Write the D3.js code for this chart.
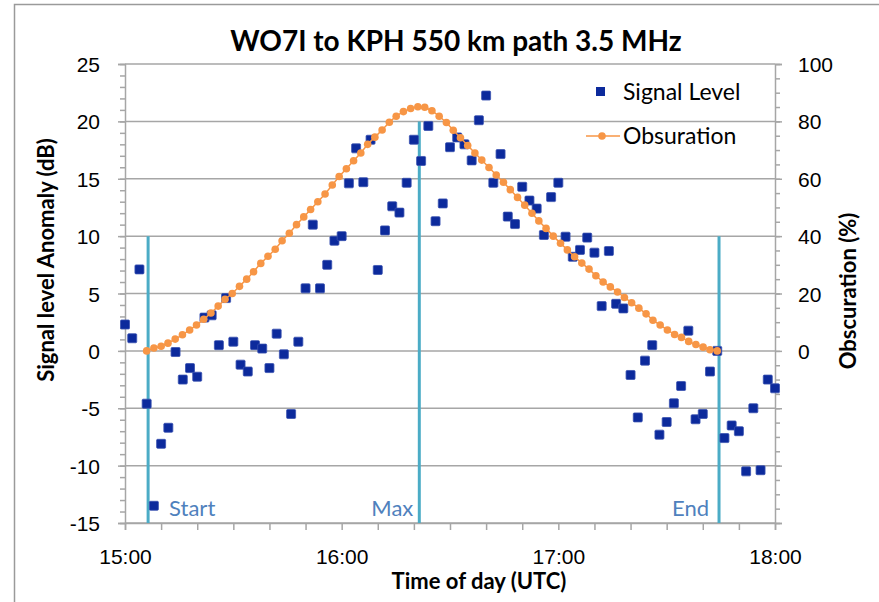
<!DOCTYPE html>
<html>
<head>
<meta charset="utf-8">
<script src="https://cdn.jsdelivr.net/npm/d3@7"></script>
<style>
  body { margin: 0; background: #fff; }
  svg { display: block; font-family: Lato, 'Open Sans', sans-serif; }
</style>
</head>
<body>
<svg id="chart" width="879" height="602"></svg>
<script>
// minutes after 15:00 UTC
const SIG_TIMES = [
  0, 2, 4, 6, 8, 10, 12, 14, 16, 18,
  20, 22, 24, 26, 28, 30, 32, 34, 36, 38,
  40, 42, 44, 46, 48, 50, 52, 54, 56, 58,
  60, 62, 64, 66, 68, 70, 72, 74, 76, 78,
  80, 82, 84, 86, 88, 90, 92, 94, 96, 98,
  100, 102, 104, 106, 108, 110, 112, 114, 116, 118,
  120, 122, 124, 126, 128, 130, 132, 134, 136, 138,
  140, 142, 144, 146, 148, 150, 152, 154, 156, 158,
  160, 162, 164, 166, 168, 170, 172, 174, 176, 178,
  180,
]
const SIGNAL = [
  2.3, 1.1, 7.1, -4.6, -13.5, -8.1, -6.7, -0.1, -2.5, -1.5,
  -2.25, 2.9, 3.1, 0.5, 4.6, 0.8, -1.2, -1.8, 0.5, 0.2,
  -1.5, 1.5, -0.3, -5.5, 0.8, 5.45, 11.0, 5.45, 7.5, 9.6,
  10.0, 14.6, 17.65, 14.7, 18.4, 7.05, 10.5, 12.6, 12.05, 14.65,
  18.4, 16.55, 19.6, 11.3, 12.85, 17.75, 18.6, 18.0, 16.6, 20.1,
  22.25, 14.65, 17.15, 11.7, 11.05, 14.3, 13.1, 12.4, 10.1, 13.4,
  14.65, 9.95, 8.2, 8.8, 9.87, 8.56, 3.9, 8.7, 4.1, 3.7,
  -2.1, -5.8, -0.85, 0.5, -7.3, -6.2, -4.57, -3.06, 1.76, -5.96,
  -5.5, -1.8, 0, -7.6, -6.5, -7.0, -10.5, -5.0, -10.4, -2.5,
  -3.26,
]
const OBS_TIMES = [
  6.0, 8.0, 10.0, 11.9, 13.9, 15.9, 17.9, 19.8, 21.8, 23.8,
  25.8, 27.7, 29.7, 31.7, 33.7, 35.6, 37.6, 39.6, 41.6, 43.5,
  45.5, 47.5, 49.5, 51.4, 53.4, 55.4, 57.4, 59.3, 61.3, 63.3,
  65.3, 67.2, 69.2, 71.2, 73.2, 75.1, 77.1, 79.1, 81.1, 83.0,
  85.0, 87.0, 89.0, 90.9, 92.9, 94.9, 96.9, 98.8, 100.8, 102.8,
  104.8, 106.7, 108.7, 110.7, 112.7, 114.6, 116.6, 118.6, 120.6, 122.5,
  124.5, 126.5, 128.5, 130.4, 132.4, 134.4, 136.4, 138.3, 140.3, 142.3,
  144.3, 146.2, 148.2, 150.2, 152.2, 154.1, 156.1, 158.1, 160.1, 162.0,
  164.0,
]
const OBSCURATION = [
  0, 1.0, 1.6, 2.7, 4.1, 5.6, 7.3, 9.0, 11.0, 13.2,
  15.6, 18.0, 20.0, 22.5, 25.0, 27.6, 30.5, 33.0, 35.4, 38.4,
  41.0, 44.0, 46.7, 49.3, 52.0, 54.7, 57.8, 60.8, 63.5, 66.3,
  69.0, 72.0, 74.5, 77.0, 79.7, 81.8, 83.4, 84.5, 85.1, 84.9,
  83.7, 81.8, 79.6, 76.9, 74.3, 71.6, 69.0, 66.5, 63.9, 61.3,
  58.8, 56.2, 53.5, 50.8, 48.0, 45.3, 42.7, 40.0, 37.5, 35.2,
  32.8, 30.6, 28.5, 26.2, 24.0, 22.3, 20.5, 18.6, 16.8, 14.9,
  12.9, 10.7, 9.0, 7.3, 5.7, 4.7, 3.3, 2.2, 1.3, 0.4,
  0,
]
const EVENT_NAMES = ['Start', 'Max', 'End']
const EVENT_TIMES = [6.4, 81.5, 164.5]
const EVENT_TOPS = [10, 20, 10]
const HOUR_TICKS = ['15:00', '16:00', '17:00', '18:00']
const LEFT_TICKS = [25, 20, 15, 10, 5, 0, -5, -10, -15]
const RIGHT_TICKS = [100, 80, 60, 40, 20, 0]

const COLORS = {
  signal: '#0c2a9c',
  obs: '#f79646',
  event: '#4bacc6',
  eventText: '#4f81bd',
  grid: '#a6a6a6',
  text: '#000',
}
const FS = { tick: 21, title: 28, axis: 22, legend: 23, event: 22 }

const M = { left: 125, right: 775, top: 64, bottom: 523 }
const svg = d3.select('#chart')

// chart border
svg.append('rect')
  .attr('x', 14.5).attr('y', 4.5)
  .attr('width', 900).attr('height', 700)
  .attr('fill', 'none').attr('stroke', '#9a9a9a').attr('stroke-width', 1.5)

const X = d3.scaleLinear().domain([0, 180]).range([M.left, M.right])
const Y = d3.scaleLinear().domain([-15, 25]).range([M.bottom, M.top])
const Y2 = d3.scaleLinear().domain([-60, 100]).range([M.bottom, M.top])

// gridlines
svg.append('g')
  .selectAll('line')
  .data(LEFT_TICKS)
  .join('line')
  .attr('x1', M.left).attr('x2', M.right)
  .attr('y1', d => Y(d)).attr('y2', d => Y(d))
  .attr('stroke', COLORS.grid).attr('stroke-width', 1.5)

// left axis (plain hyphen for negatives, like the original)
const leftMinor = svg.append('g')
  .attr('transform', `translate(${M.left},0)`)
  .call(d3.axisLeft(Y).ticks(40).tickSize(5).tickFormat(''))
leftMinor.select('.domain').remove()
const leftAxis = svg.append('g')
  .attr('transform', `translate(${M.left},0)`)
  .call(d3.axisLeft(Y).tickValues(LEFT_TICKS).tickSize(7).tickPadding(18).tickFormat(d => String(d)))
leftAxis.selectAll('text').attr('font-size', FS.tick).attr('fill', COLORS.text).attr('dy', '0.36em')

// right axis
const rightMinor = svg.append('g')
  .attr('transform', `translate(${M.right},0)`)
  .call(d3.axisRight(Y2).ticks(32).tickSize(5).tickFormat(''))
rightMinor.select('.domain').remove()
const rightAxis = svg.append('g')
  .attr('transform', `translate(${M.right},0)`)
  .call(d3.axisRight(Y2).tickValues(d3.range(-60, 101, 20)).tickSize(7).tickPadding(16)
    .tickFormat(d => RIGHT_TICKS.includes(d) ? String(d) : ''))
rightAxis.selectAll('text').attr('font-size', FS.tick).attr('fill', COLORS.text).attr('dy', '0.36em')

// bottom axis
const bottomAxis = svg.append('g')
  .attr('transform', `translate(0,${M.bottom})`)
  .call(d3.axisBottom(X).tickValues(d3.range(0, 181, 10)).tickSize(7).tickPadding(19)
    .tickFormat(d => d % 60 === 0 ? HOUR_TICKS[d / 60] : ''))
bottomAxis.selectAll('text').attr('font-size', FS.tick).attr('fill', COLORS.text)

svg.selectAll('.domain, .tick line').attr('stroke', COLORS.grid).attr('stroke-width', 1.5)

// event lines
const ev = svg.append('g')
EVENT_NAMES.forEach((name, i) => {
  ev.append('line')
    .attr('x1', X(EVENT_TIMES[i])).attr('x2', X(EVENT_TIMES[i]))
    .attr('y1', Y(EVENT_TOPS[i])).attr('y2', M.bottom)
    .attr('stroke', COLORS.event).attr('stroke-width', 3)
  ev.append('text')
    .attr('x', i === 0 ? X(EVENT_TIMES[i]) + 21 : X(EVENT_TIMES[i]) - (i === 1 ? 6 : 10))
    .attr('y', 516)
    .attr('text-anchor', i === 0 ? 'start' : 'end')
    .attr('font-size', FS.event)
    .attr('fill', COLORS.eventText)
    .text(name)
})

// signal squares
const S = 9
svg.append('g')
  .selectAll('rect')
  .data(SIGNAL)
  .join('rect')
  .attr('x', (d, i) => X(SIG_TIMES[i]) - S / 2)
  .attr('y', d => Y(d) - S / 2)
  .attr('width', S).attr('height', S)
  .attr('rx', 1)
  .attr('fill', COLORS.signal)
  .attr('stroke', '#3850b0').attr('stroke-width', 0.8)

// obscuration line + markers
const obsPts = OBSCURATION.map((d, i) => [X(OBS_TIMES[i]), Y2(d)])
svg.append('path')
  .attr('d', d3.line()(obsPts))
  .attr('fill', 'none').attr('stroke', COLORS.obs).attr('stroke-width', 1.5)
svg.append('g')
  .selectAll('circle')
  .data(obsPts)
  .join('circle')
  .attr('cx', d => d[0]).attr('cy', d => d[1])
  .attr('r', 3.8)
  .attr('fill', COLORS.obs)

// legend
const lg = svg.append('g')
lg.append('rect')
  .attr('x', 596).attr('y', 87).attr('width', 9).attr('height', 9)
  .attr('fill', COLORS.signal)
lg.append('text').attr('x', 623).attr('y', 100).attr('font-size', FS.legend).text('Signal Level')
lg.append('line')
  .attr('x1', 586).attr('x2', 620).attr('y1', 136).attr('y2', 136)
  .attr('stroke', COLORS.obs).attr('stroke-width', 1.5)
lg.append('circle').attr('cx', 602).attr('cy', 136).attr('r', 3.8).attr('fill', COLORS.obs)
lg.append('text').attr('x', 623).attr('y', 144).attr('font-size', FS.legend).text('Obsuration')

// titles
svg.append('text')
  .attr('x', 456).attr('y', 51)
  .attr('text-anchor', 'middle')
  .attr('font-size', FS.title).attr('font-weight', 'bold')
  .text('WO7I to KPH 550 km path 3.5 MHz')
svg.append('text')
  .attr('x', 479).attr('y', 589)
  .attr('text-anchor', 'middle')
  .attr('font-size', FS.axis).attr('font-weight', 'bold')
  .text('Time of day (UTC)')
svg.append('text')
  .attr('transform', 'translate(54,260) rotate(-90)')
  .attr('text-anchor', 'middle')
  .attr('font-size', FS.axis).attr('font-weight', 'bold')
  .text('Signal level Anomaly (dB)')
svg.append('text')
  .attr('transform', 'translate(856,291) rotate(-90)')
  .attr('text-anchor', 'middle')
  .attr('font-size', FS.axis).attr('font-weight', 'bold')
  .text('Obscuration (%)')
</script>
</body>
</html>
